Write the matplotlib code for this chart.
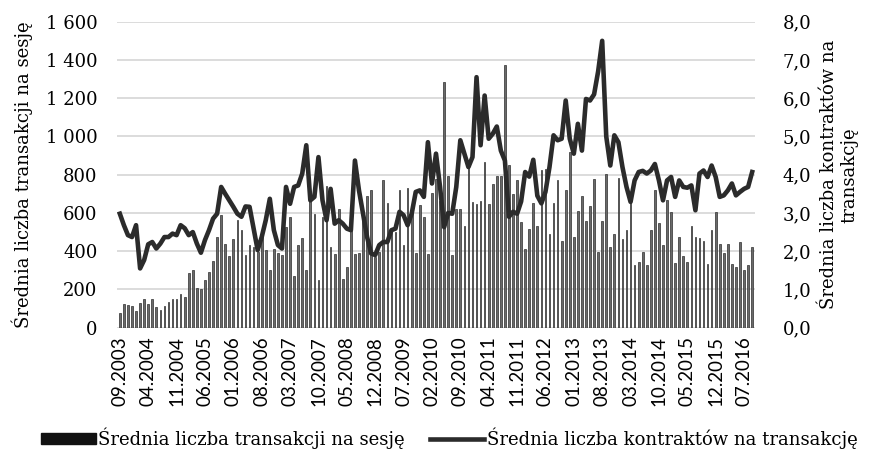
import matplotlib
matplotlib.use("Agg")
import matplotlib.pyplot as plt
from matplotlib.patches import Patch
from matplotlib.lines import Line2D
import numpy as np

# Monthly data 09.2003 - 09.2016
transactions = [
    75, 123, 118, 113, 87, 130, 150, 125, 150, 110,
    92, 113, 136, 150, 150, 176, 162, 287, 304, 209,
    202, 252, 289, 350, 475, 588, 440, 376, 466, 565,
    510, 379, 431, 423, 397, 492, 405, 304, 410, 388,
    379, 527, 579, 270, 435, 471, 301, 675, 593, 249,
    580, 740, 423, 384, 623, 257, 318, 527, 384, 389,
    579, 687, 718, 370, 397, 770, 652, 510, 503, 718,
    435, 730, 600, 391, 640, 579, 383, 704, 780, 660,
    1283, 793, 379, 623, 623, 530, 849, 657, 649, 663,
    866, 645, 753, 791, 791, 1376, 849, 700, 774, 553,
    409, 518, 652, 530, 823, 830, 492, 652, 770, 454,
    722, 918, 475, 610, 687, 558, 635, 779, 397, 558,
    805, 423, 492, 783, 466, 513, 657, 327, 344, 397,
    327, 510, 722, 548, 431, 666, 605, 336, 475, 374,
    344, 534, 475, 470, 454, 332, 510, 605, 437, 388,
    440, 332, 318, 449, 304, 327, 423,
]
contracts = [
    2.98, 2.68, 2.42, 2.37, 2.68, 1.55, 1.77, 2.18, 2.24, 2.07,
    2.20, 2.37, 2.37, 2.46, 2.42, 2.68, 2.60, 2.42, 2.50, 2.20,
    1.96, 2.29, 2.55, 2.85, 2.98, 3.68, 3.50, 3.33, 3.16, 2.98,
    2.90, 3.17, 3.16, 2.59, 2.03, 2.37, 2.81, 3.37, 2.55, 2.16,
    2.07, 3.68, 3.24, 3.68, 3.72, 4.03, 4.77, 3.33, 3.42, 4.46,
    3.33, 2.81, 3.63, 2.72, 2.81, 2.72, 2.59, 2.55, 4.37, 3.59,
    2.98, 2.37, 1.94, 1.90, 2.16, 2.24, 2.24, 2.55, 2.59, 3.03,
    2.94, 2.68, 2.98, 3.55, 3.59, 3.42, 4.85, 3.77, 4.55, 3.68,
    2.63, 3.00, 2.98, 3.68, 4.90, 4.55, 4.20, 4.46, 6.55, 4.77,
    6.07, 4.94, 5.07, 5.26, 4.63, 4.37, 2.90, 3.03, 2.98, 3.30,
    4.07, 3.95, 4.39, 3.45, 3.25, 3.55, 4.20, 5.03, 4.90, 4.94,
    5.94, 4.94, 4.55, 5.33, 4.63, 5.98, 5.94, 6.10, 6.70, 7.50,
    5.00, 4.24, 5.03, 4.85, 4.20, 3.68, 3.29, 3.85, 4.07, 4.10,
    4.03, 4.11, 4.28, 3.85, 3.33, 3.85, 3.94, 3.42, 3.85, 3.68,
    3.66, 3.72, 3.07, 4.03, 4.11, 3.94, 4.24, 3.94, 3.42, 3.46,
    3.59, 3.77, 3.46, 3.55, 3.63, 3.68, 4.07,
]
tick_labels = [
    "09.2003", "04.2004", "11.2004", "06.2005", "01.2006", "08.2006",
    "03.2007", "10.2007", "05.2008", "12.2008", "07.2009", "02.2010",
    "09.2010", "04.2011", "11.2011", "06.2012", "01.2013", "08.2013",
    "03.2014", "10.2014", "05.2015", "12.2015", "07.2016",
]
tick_step = 7
left_ticks = [0, 200, 400, 600, 800, 1000, 1200, 1400, 1600]
left_tick_labels = ["0", "200", "400", "600", "800", "1 000", "1 200", "1 400", "1 600"]
right_ticks = [0, 1, 2, 3, 4, 5, 6, 7, 8]
right_tick_labels = ["0,0", "1,0", "2,0", "3,0", "4,0", "5,0", "6,0", "7,0", "8,0"]
bar_label = "Średnia liczba transakcji na sesję"
line_label = "Średnia liczba kontraktów na transakcję"
left_title = "Średnia liczba transakcji na sesję"
right_title = "Średnia liczba kontraktów na\ntransakcję"

serif = "DejaVu Serif"
sans = "Lato"

fig = plt.figure(figsize=(8.73, 4.68), dpi=100)
ax = fig.add_axes([117 / 873, 1 - 327.7 / 468, (755 - 117) / 873, (327.7 - 21.7) / 468])
x = np.arange(len(transactions))

ax.bar(x, transactions, width=0.42, color="#6a6a6a", edgecolor="#2e2e2e", linewidth=0.5, zorder=2)
ax.set_ylim(0, 1600)
ax.set_xlim(-0.7, len(transactions) - 0.3)
ax.set_yticks(left_ticks)
ax.set_yticklabels(left_tick_labels, fontfamily=serif, fontsize=13)
ax.set_xticks(np.arange(len(tick_labels)) * tick_step)
ax.set_xticklabels(tick_labels, rotation=90, fontfamily=sans, fontsize=13.5)
ax.tick_params(axis="both", length=0)
ax.tick_params(axis="y", pad=14)
ax.tick_params(axis="x", pad=6)
ax.grid(axis="y", color="#d6d6d6", linewidth=1.2, zorder=0)
ax.set_axisbelow(True)
for s in ax.spines.values():
    s.set_visible(False)
ax.set_ylabel(left_title, fontfamily=serif, fontsize=13, labelpad=9)

ax2 = ax.twinx()
ax2.plot(x, contracts, color="#2b2b2b", linewidth=3.3, solid_joinstyle="round", zorder=3)
ax2.set_ylim(0, 8)
ax2.set_yticks(right_ticks)
ax2.set_yticklabels(right_tick_labels, fontfamily=serif, fontsize=13)
ax2.tick_params(axis="y", length=0, pad=20)
for s in ax2.spines.values():
    s.set_visible(False)
ax2.set_ylabel(right_title, fontfamily=serif, fontsize=13, labelpad=6)

handles = [Patch(facecolor="#111111", edgecolor="#111111"),
           Line2D([0], [0], color="#2b2b2b", linewidth=3.3)]
fig.legend(handles, [bar_label, line_label], loc="center", bbox_to_anchor=(0.515, 1 - 438 / 468),
           ncol=2, frameon=False, prop={"family": serif, "size": 13},
           handlelength=3.0, handletextpad=0.15, columnspacing=1.4, handleheight=0.6)

fig.savefig("out.png", dpi=100)
